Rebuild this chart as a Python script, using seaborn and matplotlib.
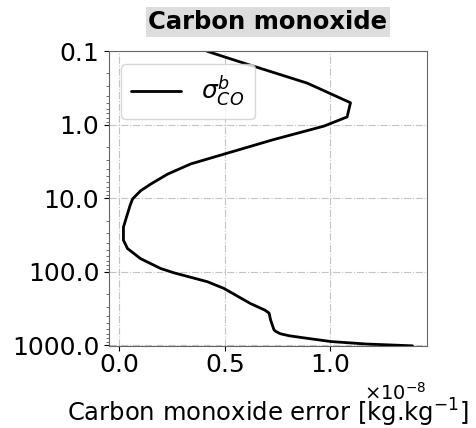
import numpy as np
import pandas as pd
import matplotlib
matplotlib.use("Agg")
import matplotlib.pyplot as plt
import seaborn as sns
from matplotlib.ticker import FixedLocator, FixedFormatter

# Background error profile for carbon monoxide (values in 1e-8 kg/kg)
pressure = [0.1, 0.14, 0.27, 0.5, 0.78, 1.04, 1.58, 2.5, 3.4, 4.7, 6.4, 7.9, 10.2,
            12.6, 16.3, 24.6, 37, 48, 66, 90, 103, 136, 168, 268, 331, 364, 450,
            613, 646, 695, 740, 800, 886, 957, 1013]
co_error = [0.417, 0.575, 0.89, 1.096, 1.08, 0.97, 0.733, 0.496, 0.338, 0.227, 0.148,
            0.10, 0.062, 0.05, 0.038, 0.019, 0.019, 0.038, 0.10, 0.196, 0.259, 0.417,
            0.496, 0.62, 0.69, 0.71, 0.717, 0.733, 0.742, 0.764, 0.806, 0.89, 1.003,
            1.17, 1.39]
ytick_vals = [0.1, 1.0, 10.0, 100.0, 1000.0]
ytick_labels = ["0.1", "1.0", "10.0", "100.0", "1000.0"]

df = pd.DataFrame({"pressure": pressure, "error": np.array(co_error) * 1e-8})

sns.set_style("white", {"text.color": "black", "axes.labelcolor": "black",
                        "xtick.color": "black", "ytick.color": "black"})
plt.rcParams["font.family"] = ["DejaVu Sans"]

fig, ax = plt.subplots(figsize=(4.77, 4.28), dpi=100)
fig.subplots_adjust(left=0.2285, right=0.895, top=0.88, bottom=0.192)

sns.lineplot(data=df, x="error", y="pressure", sort=False, estimator=None,
             color="black", linewidth=2, label=r"$\sigma^{b}_{CO}$", ax=ax)

ax.set_yscale("log")
ax.set_ylim(1013, 0.1)
ax.yaxis.set_major_locator(FixedLocator(ytick_vals))
ax.yaxis.set_major_formatter(FixedFormatter(ytick_labels))
ax.tick_params(axis="both", labelsize=18, left=True, bottom=True, which="both")
ax.tick_params(axis="x", pad=2)
ax.tick_params(axis="y", which="minor", length=2, color="#555555")
ax.ticklabel_format(axis="x", style="sci", scilimits=(0, 0), useMathText=True)
ax.xaxis.get_offset_text().set_fontsize(14)

ax.grid(True, which="major", linestyle="-.", color="#c4c4c4", linewidth=0.8)
for s in ax.spines.values():
    s.set_color("#666666")

ax.set_ylabel("")
ax.set_xlabel(r"Carbon monoxide error [kg.kg$^{-1}$]", fontsize=17.5, labelpad=14)
ax.set_title("Carbon monoxide", fontsize=17.5, fontweight="bold",
             bbox=dict(facecolor="#dddddd", edgecolor="none", pad=2), pad=16)
ax.legend(loc="upper left", fontsize=18, handlelength=2.0, framealpha=0.8)

fig.savefig("out.png", dpi=100)
